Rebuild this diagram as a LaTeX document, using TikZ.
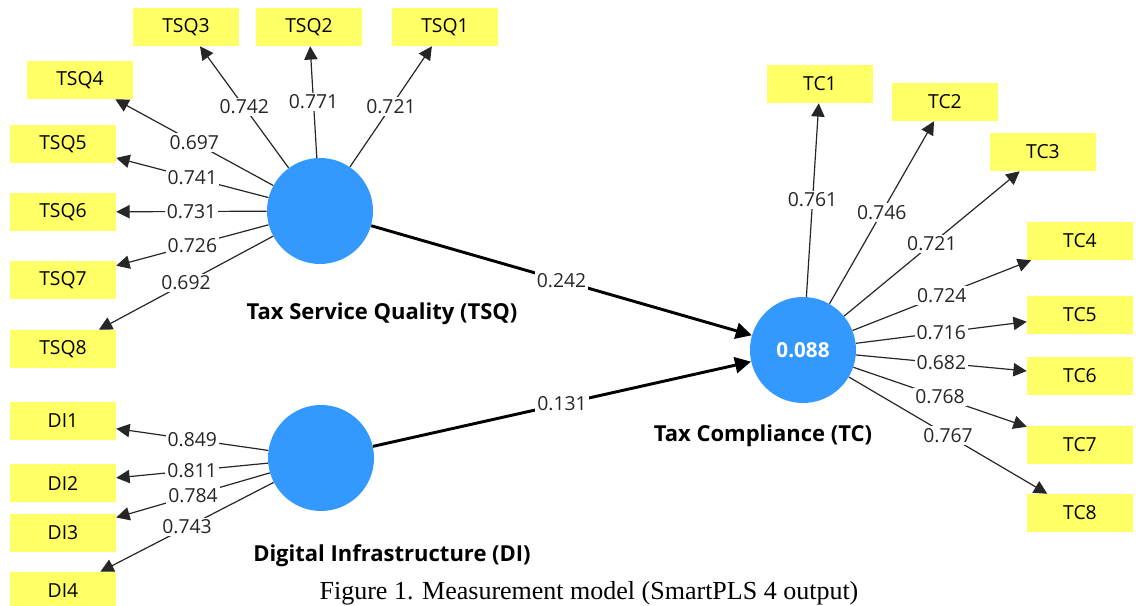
\documentclass[tikz,border=0pt]{standalone}
\usepackage{fontspec}
\setmainfont{Open Sans}
\newfontfamily\captionfont{Liberation Serif}
\usetikzlibrary{arrows.meta}
\definecolor{itemyellow}{RGB}{255,255,102}
\definecolor{latentblue}{RGB}{51,153,255}

\begin{document}
\begin{tikzpicture}[x=0.75pt,y=-0.75pt,
    item/.style={fill=itemyellow, minimum width=79.5pt, minimum height=28.5pt, inner sep=0pt, font=\fontsize{14.5}{16}\selectfont},
    latent/.style={circle, fill=latentblue, minimum size=79.5pt, inner sep=0pt},
    loading/.style={-{Triangle[length=10pt,width=10pt]}, line width=0.9pt, draw=black!85},
    pathcoef/.style={-{Triangle[length=12pt,width=12pt]}, line width=2.2pt},
    coef/.style={fill=white, inner sep=1.5pt, font=\fontsize{14.5}{16}\selectfont, text=black!85},
    conlabel/.style={font=\bfseries\fontsize{16.5}{18}\selectfont}]
    \useasboundingbox (0,0) rectangle (1136,606);

    % constructs
    \node[latent] (tsq) at (320,211) {};
    \node[latent] (di) at (321,458) {};
    \node[latent, text=white, font=\bfseries\fontsize{15.5}{18}\selectfont] (tc) at (803,350) {0.088};
    \node[conlabel] (tsqname) at (382,314) {Tax Service Quality (TSQ)};
    \node[conlabel] (diname) at (392,556) {Digital Infrastructure (DI)};
    \node[conlabel] (tcname) at (763,436) {Tax Compliance (TC)};

    % indicators
    \node[item] (tsq1) at (445,27) {TSQ1};
    \node[item] (tsq2) at (309,27) {TSQ2};
    \node[item] (tsq3) at (186,27) {TSQ3};
    \node[item] (tsq4) at (80,80) {TSQ4};
    \node[item] (tsq5) at (63,144) {TSQ5};
    \node[item] (tsq6) at (63,212) {TSQ6};
    \node[item] (tsq7) at (63,280) {TSQ7};
    \node[item] (tsq8) at (63,349) {TSQ8};
    \node[item] (di1) at (63,421) {DI1};
    \node[item] (di2) at (63,483) {DI2};
    \node[item] (di3) at (63,533) {DI3};
    \node[item] (di4) at (63,591) {DI4};
    \node[item] (tc1) at (820,84) {TC1};
    \node[item] (tc2) at (945,102) {TC2};
    \node[item] (tc3) at (1043,152) {TC3};
    \node[item] (tc4) at (1080,241) {TC4};
    \node[item] (tc5) at (1080,315) {TC5};
    \node[item] (tc6) at (1080,376) {TC6};
    \node[item] (tc7) at (1080,445) {TC7};
    \node[item] (tc8) at (1080,513) {TC8};

    % outer loadings
    \draw[loading] (tsq) -- node[coef] {0.721} (tsq1);
    \draw[loading] (tsq) -- node[coef] {0.771} (tsq2);
    \draw[loading] (tsq) -- node[coef] {0.742} (tsq3);
    \draw[loading] (tsq) -- node[coef] {0.697} (tsq4);
    \draw[loading] (tsq) -- node[coef] {0.741} (tsq5);
    \draw[loading] (tsq) -- node[coef] {0.731} (tsq6);
    \draw[loading] (tsq) -- node[coef] {0.726} (tsq7);
    \draw[loading] (tsq) -- node[coef] {0.692} (tsq8);
    \draw[loading] (di) -- node[coef] {0.849} (di1);
    \draw[loading] (di) -- node[coef] {0.811} (di2);
    \draw[loading] (di) -- node[coef] {0.784} (di3);
    \draw[loading] (di) -- node[coef] {0.743} (di4);
    \draw[loading] (tc) -- node[coef] {0.761} (tc1);
    \draw[loading] (tc) -- node[coef] {0.746} (tc2);
    \draw[loading] (tc) -- node[coef] {0.721} (tc3);
    \draw[loading] (tc) -- node[coef] {0.724} (tc4);
    \draw[loading] (tc) -- node[coef] {0.716} (tc5);
    \draw[loading] (tc) -- node[coef] {0.682} (tc6);
    \draw[loading] (tc) -- node[coef] {0.768} (tc7);
    \draw[loading] (tc) -- node[coef] {0.767} (tc8);

    % inner model
    \draw[pathcoef] (tsq) -- node[coef] {0.242} (tc);
    \draw[pathcoef] (di) -- node[coef] {0.131} (tc);

    \node[font=\captionfont\fontsize{19.5}{20}\selectfont, anchor=south, inner sep=0pt] (caption) at (589,605) {Figure 1. Measurement model (SmartPLS 4 output)};
\end{tikzpicture}
\end{document}
